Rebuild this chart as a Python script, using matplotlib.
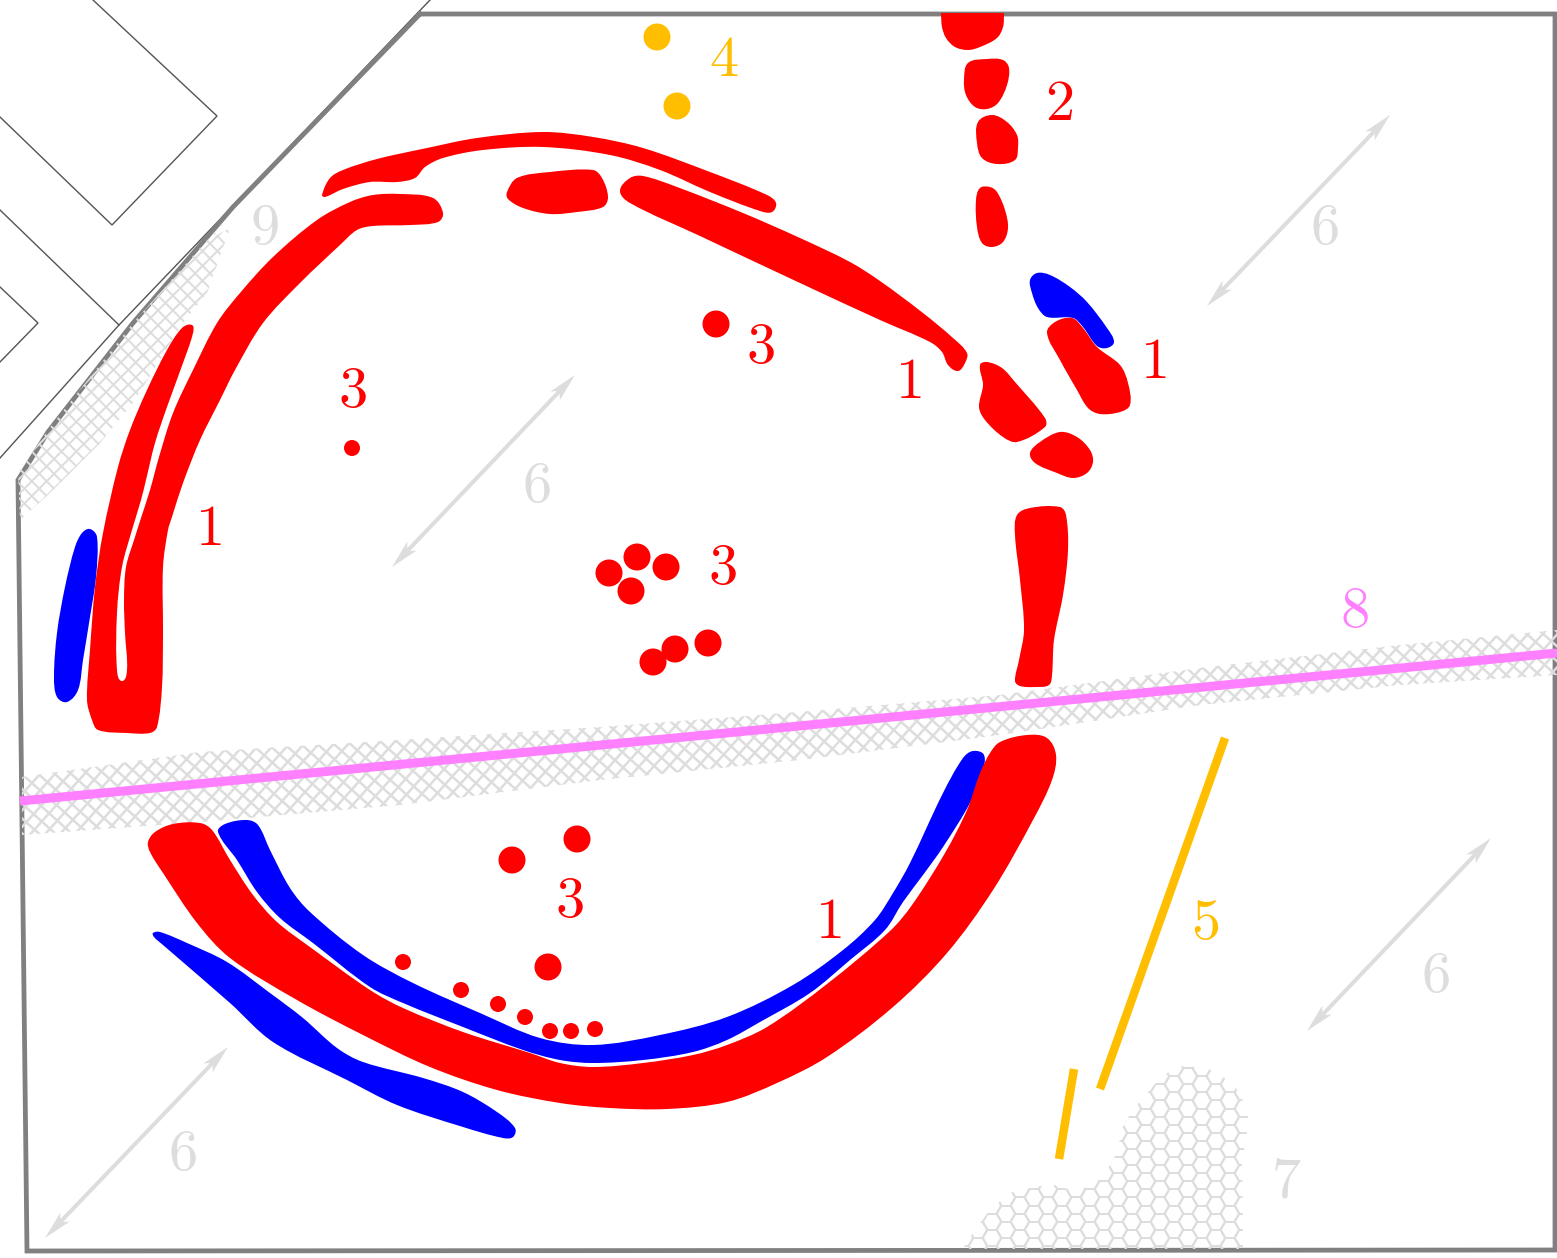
import matplotlib
matplotlib.use("Agg")
import matplotlib.pyplot as plt
import numpy as np
from matplotlib.collections import LineCollection
from matplotlib.patches import Circle, PathPatch, Polygon, Rectangle
from matplotlib.path import Path

RED = "#ff0000"
BLUE = "#0000ff"
ORANGE = "#ffbf00"
PINK = "#ff80ff"
LIGHT = "#dddddd"
GREY = "#808080"
DARK = "#555555"
PX = 0.72  # pixels -> points at dpi 100

# Red features (1, 2)
arc_top = [(322,195),(330,178),(343,170),(377,159),(427,148),(477,138),(543,132),(593,137),(643,148),
           (710,172),(767,195),(776,203),(772,212),(760,211),(710,192),(660,170),(610,155),(543,147),
           (483,150),(443,158),(425,167),(415,178),(397,182),(370,182),(343,189),(325,197)]
arc_west = [(443,213),(438,222),(410,225),(373,226),(357,230),(340,245),(300,283),(263,323),(235,370),
            (220,400),(200,440),(183,483),(172,517),(168,530),(163,567),(163,633),(162,687),
            (157,727),(150,733),(127,733),(98,730),(92,720),(87,700),(90,650),(95,587),(103,533),
            (118,467),(130,430),(147,390),(167,350),(182,328),(192,325),(193,333),(183,363),(167,407),
            (155,443),(146,480),(141,500),(132,530),(122,567),(117,613),(117,670),(122,681),(127,670),(125,633),
            (124,600),(126,567),(135,537),(141,518),(150,490),(159,457),(173,413),(193,370),(217,323),(240,293),
            (273,257),(317,220),(350,202),(373,195),(400,194),(433,198)]
block_mid = [(507,192),(517,178),(550,172),(593,170),(602,178),(608,197),(603,207),(577,212),(550,214),
             (523,208),(508,199)]
arc_north = [(620,191),(630,178),(643,176),(677,187),(743,213),(800,238),(850,262),(880,281),(923,313),
             (953,338),(967,353),(965,363),(958,371),(948,365),(942,352),(930,342),(880,320),(800,283),
             (700,236),(630,203)]
post_1 = [(941,0),(1004,0),(1004,13),(1003,27),(997,38),(980,47),(968,50),(955,47),(946,38),(942,27),(941,13)]
post_2 = [(968,63),(987,59),(1003,60),(1009,68),(1007,85),(998,103),(987,109),(975,107),(966,95),(964,80)]
post_3 = [(978,122),(992,115),(1007,122),(1017,135),(1018,147),(1015,160),(997,164),(982,158),(977,143)]
post_4 = [(980,188),(990,187),(997,192),(1005,210),(1008,228),(1003,242),(992,247),(982,243),(977,227),(976,200)]
block_ne = [(1047,333),(1055,322),(1072,318),(1083,328),(1097,347),(1120,365),(1128,383),(1130,405),
            (1120,412),(1100,414),(1088,408),(1077,390),(1060,360)]
block_e1 = [(980,365),(987,362),(1002,368),(1015,382),(1045,418),(1045,427),(1017,442),(1003,437),
            (985,420),(979,407),(983,385)]
block_e2 = [(1030,453),(1040,442),(1060,432),(1077,437),(1090,450),(1093,462),(1087,473),(1073,478),
            (1057,473),(1035,463)]
column_e = [(1017,515),(1030,508),(1060,507),(1066,515),(1068,550),(1063,595),(1054,640),(1052,675),
            (1049,685),(1035,687),(1020,686),(1015,681),(1019,660),(1024,630),(1020,580),(1015,535)]
arc_south = [(148,842),(155,832),(173,824),(200,823),(212,830),(230,860),(253,895),(277,922),(310,947),
             (370,990),(403,1008),(463,1032),(530,1053),(560,1063),(593,1067),(643,1063),(693,1055),
             (727,1045),(767,1027),(827,984),(890,931),(912,905),(945,853),(967,810),(980,773),(990,753),
             (1000,742),(1027,735),(1047,738),(1056,755),(1052,780),(1033,820),(993,890),(947,953),
             (893,1007),(827,1057),(777,1083),(727,1102),(667,1109),(610,1108),(560,1103),(497,1090),
             (430,1067),(363,1035),(297,1000),(230,958),(197,923),(163,873),(150,852)]

# Blue features
blue_west = [(90,529),(97,537),(96,577),(90,617),(83,660),(78,690),(67,702),(57,697),(54,677),(57,633),
             (65,587),(75,547),(82,533)]
blue_ne = [(1030,280),(1037,273),(1050,275),(1070,287),(1087,302),(1107,328),(1114,342),(1107,348),
           (1097,346),(1083,327),(1073,318),(1047,317),(1038,308),(1032,293)]
blue_inner = [(218,832),(225,824),(247,820),(258,825),(270,850),(290,888),(310,912),(363,955),(413,983),
              (480,1013),(540,1038),(593,1045),(660,1035),(727,1017),(793,985),(843,950),(875,920),
              (893,893),(910,863),(943,793),(963,758),(973,751),(984,755),(982,773),(970,803),(943,847),
              (923,875),(903,902),(885,930),(850,960),(810,993),(760,1022),(727,1040),(693,1052),(643,1060),
              (593,1063),(560,1060),(523,1050),(463,1027),(403,1003),(370,987),(313,943),(280,918),
              (257,892),(237,860)]
blue_outer = [(153,933),(160,932),(187,943),(227,962),(270,993),(303,1018),(337,1048),(363,1062),
              (423,1078),(463,1092),(497,1112),(515,1128),(513,1137),(503,1138),(463,1127),(397,1105),
              (347,1080),(273,1042),(230,1003),(163,945),(154,937)]

# Pits: x, y, r
pits_x = [716,352,609,637,666,631,653,675,708,577,512,548,403,461,498,525,550,571,595]
pits_y = [324,448,573,557,567,591,662,649,643,839,860,967,962,990,1004,1017,1031,1031,1029]
pits_r = [13.5,8,13.5,13.5,13.5,13.5,13.5,13.5,13.5,13.5,13.5,13.5,8,8,8,8,8,8,8]
gold_x = [657,677]
gold_y = [37,106]
gold_r = [13.5,13.5]

# Straight lines
gold_lines = [((1225,738),(1100,1089)), ((1074,1069),(1059,1159))]
pink_line = [(20,801),(1557,653)]
border = [(420,14),(1555,14),(1555,1250),(27,1251),(18,480),(48,432),(133,323),(233,207),(420,14)]
buildings = [[(93,0),(217,116),(112,225),(0,117)],
             [(0,210),(119,325)],
             [(0,287),(38,323),(0,362)],
             [(0,458),(119,325),(430,0)]]

# Hatched areas
area_nw = [(232,212),(213,237),(230,228),(207,293),(183,323),(133,403),(100,443),(50,493),(20,520),
           (18,473),(48,430),(133,323)]
band_top = [(22,777),(200,752),(400,740),(600,727),(800,712),(1000,695),(1200,668),(1400,645),(1557,630)]
band_bottom = [(1557,675),(1400,685),(1200,705),(1000,735),(800,760),(600,780),(400,805),(200,822),(22,835)]
area_hex = [(963,1249),(973,1233),(990,1210),(1010,1193),(1050,1184),(1077,1192),(1103,1178),(1117,1153),
            (1123,1127),(1133,1110),(1150,1090),(1163,1075),(1183,1066),(1207,1068),(1233,1083),
            (1248,1110),(1247,1130),(1242,1163),(1243,1249)]

# Arrows
arrows = [((1390,115),(1207,306)), ((575,375),(392,567)), ((1491,838),(1307,1031)), ((228,1047),(45,1238))]

# Labels
label_text = ["1","1","1","1","2","3","3","3","3","4","5","6","6","6","6","7","8","9"]
label_x = [211,911,1156,831,1060,761,353,723,570,724,1206,1325,537,1436,183,1286,1355,265]
label_y = [530,383,363,923,105,348,392,569,902,61,924,229,487,977,1155,1183,612,229]
label_col = [RED,RED,RED,RED,RED,RED,RED,RED,RED,ORANGE,ORANGE,LIGHT,LIGHT,LIGHT,LIGHT,LIGHT,PINK,LIGHT]


def smooth(points):
    # closed spline, handles scaled by segment length so uneven spacing doesn't overshoot
    p = np.array(points, float)
    n = len(p)
    tang = p[(np.arange(n) + 1) % n] - p[np.arange(n) - 1]
    tang = tang / np.linalg.norm(tang, axis=1, keepdims=True)
    verts = [p[0]]
    codes = [Path.MOVETO]
    for i in range(n):
        j = (i + 1) % n
        seg = np.linalg.norm(p[j] - p[i]) / 3
        verts += [p[i] + tang[i] * seg, p[j] - tang[j] * seg, p[j]]
        codes += [Path.CURVE4] * 3
    return Path(verts, codes)


def cross_hatch(ax, outline, step, angle, lw):
    clip = Polygon(outline, closed=True, fill=False, edgecolor="none")
    ax.add_patch(clip)
    segs = []
    for a in (angle, angle + 90):
        d = np.array([np.cos(np.radians(a)), np.sin(np.radians(a))])
        nrm = np.array([-d[1], d[0]])
        for k in np.arange(-200, 200):
            c = nrm * k * step + np.array([700, 600])
            segs.append([c - d * 2400, c + d * 2400])
    lc = LineCollection(segs, colors=LIGHT, linewidths=lw * PX, zorder=2)
    ax.add_collection(lc)
    lc.set_clip_path(clip)


def hex_hatch(ax, outline, side):
    clip = Polygon(outline, closed=True, fill=False, edgecolor="none")
    ax.add_patch(clip)
    h = side * np.sqrt(3) / 2
    segs = []
    for col in range(0, 30):
        for row in range(0, 16):
            cx = 950 + col * 1.5 * side
            cy = 1052 + row * 2 * h + (h if col % 2 else 0)
            ang = np.radians(np.arange(0, 360, 60))
            hx = np.column_stack([cx + side * np.cos(ang), cy + side * np.sin(ang)])
            for i in range(6):
                segs.append([hx[i], hx[(i + 1) % 6]])
    lc = LineCollection(segs, colors=LIGHT, linewidths=2 * PX, zorder=2)
    ax.add_collection(lc)
    lc.set_clip_path(clip)


def arrow_head(ax, tip, back):
    # long narrow head with swept barbs, like the north arrows in the drawing
    tip = np.array(tip, float)
    d = np.array(back, float) - tip
    d = d / np.linalg.norm(d)
    n = np.array([-d[1], d[0]])
    pts = [tip, tip + d * 29 + n * 6.5, tip + d * 22, tip + d * 29 - n * 6.5]
    ax.add_patch(Polygon(pts, closed=True, facecolor=LIGHT, edgecolor="none", zorder=2))


fig = plt.figure(figsize=(15.57, 12.58), dpi=100)
ax = fig.add_axes([0, 0, 1, 1])
ax.set_xlim(0, 1557)
ax.set_ylim(1258, 0)
ax.axis("off")

# base map
for b in buildings:
    xs, ys = zip(*b)
    ax.plot(xs, ys, color=DARK, lw=1.4 * PX, zorder=1, solid_joinstyle="miter")
xs, ys = zip(*border)
ax.plot(xs, ys, color=GREY, lw=4.8 * PX, zorder=1.5, solid_joinstyle="miter")

# hatching
cross_hatch(ax, area_nw, 10.5, 45, 2)
cross_hatch(ax, band_top + band_bottom, 11, 42, 2.5)
hex_hatch(ax, area_hex, 9.33)

# arrows
for a, b in arrows:
    a = np.array(a, float)
    b = np.array(b, float)
    u = (b - a) / np.linalg.norm(b - a)
    s = a + u * 22
    e = b - u * 22
    ax.plot([s[0], e[0]], [s[1], e[1]], color=LIGHT, lw=4 * PX, zorder=2, solid_capstyle="butt")
    arrow_head(ax, a, b)
    arrow_head(ax, b, a)

# lines
for a, b in gold_lines:
    ax.plot([a[0], b[0]], [a[1], b[1]], color=ORANGE, lw=8.5 * PX, zorder=3, solid_capstyle="butt")
ax.plot([pink_line[0][0], pink_line[1][0]], [pink_line[0][1], pink_line[1][1]], color=PINK, lw=9 * PX,
        zorder=3, solid_capstyle="butt")

# features
for shape in [arc_top, arc_west, block_mid, arc_north, post_2, post_3, post_4, block_ne,
              block_e1, block_e2, column_e, arc_south]:
    ax.add_patch(PathPatch(smooth(shape), facecolor=RED, edgecolor="none", zorder=4))
top_post = PathPatch(smooth(post_1), facecolor=RED, edgecolor="none", zorder=4)
ax.add_patch(top_post)
top_post.set_clip_path(Rectangle((900, 13), 150, 60, transform=ax.transData))
for shape in [blue_west, blue_ne, blue_inner, blue_outer]:
    ax.add_patch(PathPatch(smooth(shape), facecolor=BLUE, edgecolor="none", zorder=3.5))

for x, y, r in zip(pits_x, pits_y, pits_r):
    ax.add_patch(Circle((x, y), r, facecolor=RED, edgecolor="none", zorder=5))
for x, y, r in zip(gold_x, gold_y, gold_r):
    ax.add_patch(Circle((x, y), r, facecolor=ORANGE, edgecolor="none", zorder=5))

for t, x, y, c in zip(label_text, label_x, label_y, label_col):
    ax.text(x, y, t, color=c, family="cmr10", fontsize=42, ha="center", va="center", zorder=6)

fig.savefig("out.png", dpi=100, facecolor="white")
